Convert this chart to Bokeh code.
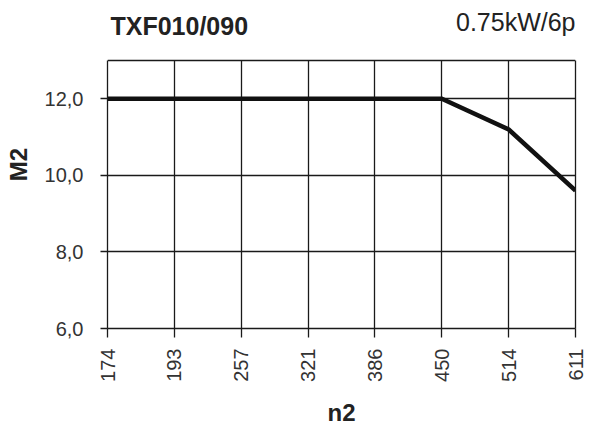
import math
from bokeh.plotting import figure
from bokeh.models import Range1d, FixedTicker, Label, LinearAxis, BoxAnnotation, Span
from bokeh.embed import file_html
from bokeh.resources import INLINE

# ---- data ----
n2_labels = ["174", "193", "257", "321", "386", "450", "514", "611"]
m2_values = [12.0, 12.0, 12.0, 12.0, 12.0, 12.0, 11.2, 9.6]
y_ticks = [6.0, 8.0, 10.0, 12.0]
y_tick_labels = ["6,0", "8,0", "10,0", "12,0"]
y_min, y_max = 6.0, 13.0
title_left = "TXF010/090"
title_right = "0.75kW/6p"
x_title = "n2"
y_title = "M2"

x_pos = list(range(len(n2_labels)))
FONT = "Liberation Sans"
DARK = "#1a1a1a"

# layout (pixels): plot box 107..575 x 60..328 inside a 590x428 canvas
W, H = 590, 428
box_l, box_r, box_t, box_b = 107, 575, 60, 328
px_per_unit = (box_b - box_t) / (y_max - y_min)
y_end = y_max + box_t / px_per_unit   # frame reaches to the canvas top to host the headings

p = figure(width=W, height=H, output_backend="svg", toolbar_location=None,
           x_range=Range1d(0, len(n2_labels) - 1), y_range=Range1d(y_min, y_end),
           min_border_left=box_l, min_border_right=W - box_r,
           min_border_top=0, min_border_bottom=H - box_b)
p.title.visible = False

p.background_fill_color = "white"
p.border_fill_color = "white"
p.outline_line_color = None

# x axis
xa = p.xaxis[0]
xa.ticker = FixedTicker(ticks=x_pos)
xa.major_label_overrides = {i: s for i, s in zip(x_pos, n2_labels)}
xa.major_label_orientation = math.pi / 2
xa.major_label_text_font = FONT
xa.major_label_text_font_size = "20px"
xa.major_label_text_color = "#333333"
xa.major_label_standoff = 11
xa.major_tick_out = 9
xa.major_tick_in = 0
xa.minor_tick_out = 0
xa.minor_tick_in = 0
xa.major_tick_line_color = DARK
xa.major_tick_line_width = 1.3
xa.axis_line_color = DARK
xa.axis_line_width = 1.3
xa.axis_label = x_title
xa.axis_label_text_font = FONT
xa.axis_label_text_font_size = "24px"
xa.axis_label_text_font_style = "bold"
xa.axis_label_text_color = "#222222"
xa.axis_label_standoff = 14

# y axis
ya = p.yaxis[0]
ya.ticker = FixedTicker(ticks=y_ticks)
ya.bounds = (y_min, y_max)
ya.major_label_overrides = {t: s for t, s in zip(y_ticks, y_tick_labels)}
ya.major_label_text_font = FONT
ya.major_label_text_font_size = "20px"
ya.major_label_text_color = "#333333"
ya.major_label_standoff = 17
ya.major_tick_out = 7
ya.major_tick_in = 0
ya.minor_tick_out = 0
ya.minor_tick_in = 0
ya.major_tick_line_color = DARK
ya.major_tick_line_width = 1.3
ya.axis_line_color = DARK
ya.axis_line_width = 1.3
ya.axis_label = y_title
ya.axis_label_text_font = FONT
ya.axis_label_text_font_size = "24px"
ya.axis_label_text_font_style = "bold"
ya.axis_label_text_color = "#222222"
ya.axis_label_standoff = 10

# right edge of the plot box
ra = LinearAxis(ticker=FixedTicker(ticks=[]), bounds=(y_min, y_max),
                major_tick_out=0, major_tick_in=0, minor_tick_out=0, minor_tick_in=0,
                major_label_text_font_size="0px",
                axis_line_color=DARK, axis_line_width=1.3)
p.add_layout(ra, "right")

# grids
p.xgrid.ticker = FixedTicker(ticks=x_pos)
p.ygrid.ticker = FixedTicker(ticks=y_ticks)
for g in (p.xgrid[0], p.ygrid[0]):
    g.grid_line_color = DARK
    g.grid_line_width = 1.3
    g.grid_line_alpha = 1.0
try:
    p.xgrid[0].cross_bounds = (y_min, y_max)
except Exception:
    pass

# curve
p.line(x_pos, m2_values, line_color="#111111", line_width=4.5, line_join="miter")

# blank heading strip above the plot box, and the box's top edge
p.add_layout(BoxAnnotation(bottom=y_max, top=y_end + 1.0, fill_color="white", fill_alpha=1.0,
                           line_color=None))
p.add_layout(Span(location=y_max, dimension="width", line_color=DARK, line_width=1.3))

# headings
p.add_layout(Label(x=0, y=y_max, x_offset=3, y_offset=35, text=title_left,
                   text_font=FONT, text_font_size="25px", text_font_style="bold",
                   text_color="#222222", text_align="left", text_baseline="alphabetic"))
p.add_layout(Label(x=len(n2_labels) - 1, y=y_max, x_offset=0, y_offset=39, text=title_right,
                   text_font=FONT, text_font_size="25px",
                   text_color="#222222", text_align="right", text_baseline="alphabetic"))

open("out.html", "w").write(file_html(p, INLINE))
